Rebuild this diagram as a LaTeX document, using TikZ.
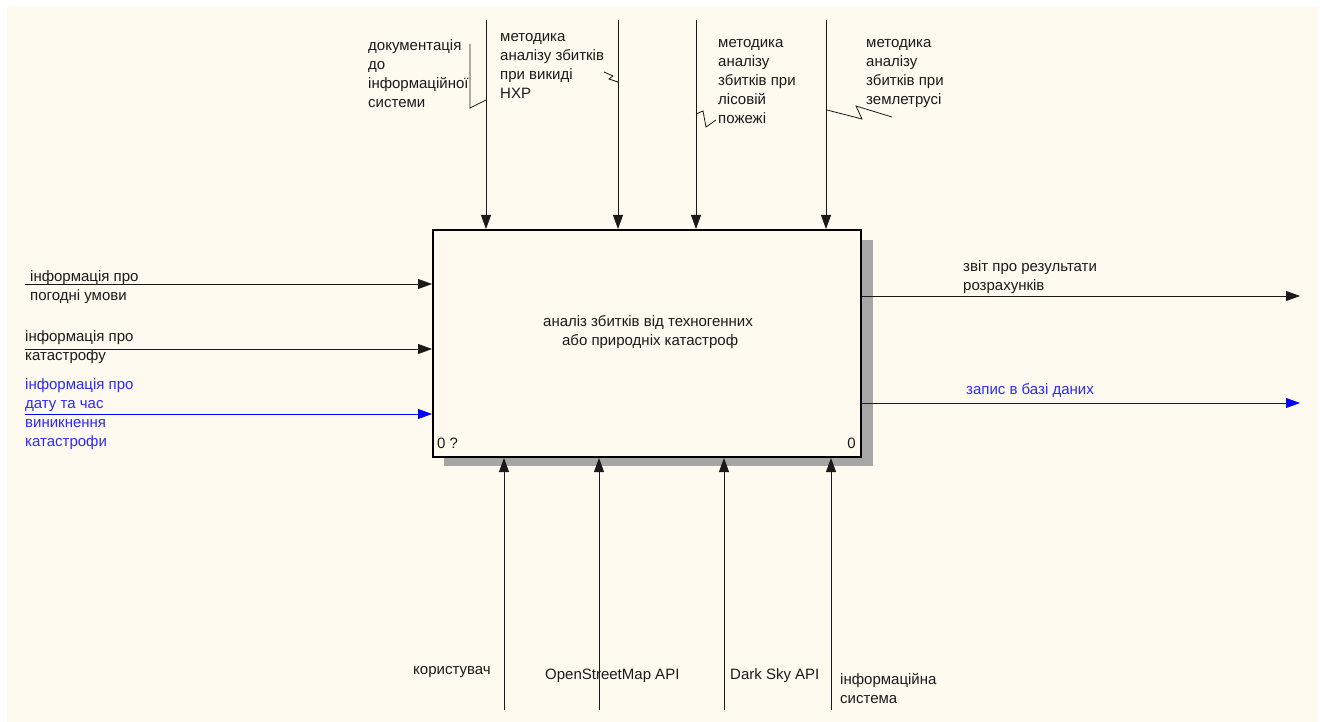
\documentclass[tikz,border=0pt]{standalone}
\usepackage{fontspec}
\setmainfont{Liberation Sans}
\usetikzlibrary{arrows.meta}
\definecolor{cream}{HTML}{FFFAF0}
\definecolor{ink}{HTML}{1A1A1A}
\definecolor{idefblue}{HTML}{0000FF}
\definecolor{lblblue}{HTML}{2A2AFF}
\tikzset{
  lbl/.style={anchor=north west,inner sep=0pt,align=left,font=\fontsize{15}{19}\selectfont,text=ink},
  blbl/.style={lbl,text=lblblue},
  arr/.style={line width=0.8pt,draw=ink,-{Triangle[length=14pt,width=10pt]}},
  barr/.style={arr,draw=idefblue,-{Triangle[length=14pt,width=10pt,fill=idefblue]}},
  squig/.style={line width=0.8pt,draw=ink},
}
\begin{document}
\begin{tikzpicture}[x=1pt,y=-1pt]
\useasboundingbox (0,0) rectangle (1323,722);
\fill[white] (0,0) rectangle (1323,722);
\fill[cream] (7,7) rectangle (1318,722);
% shadow
\fill[black!35] (444,240) rectangle (873,466);
% main box
\node[draw=black,line width=2pt,fill=cream,minimum width=428pt,minimum height=227pt,inner sep=0pt,anchor=north west] (box) at (432,229) {};
\node[font=\fontsize{15}{19}\selectfont,text=ink,align=center] (title) at (648,332) {аналіз збитків від техногенних\\ \ або природніх катастроф};
\node[anchor=south west,inner sep=0pt,font=\fontsize{15}{16}\selectfont,text=ink] (n0q) at (437,449) {0 ?};
\node[anchor=south east,inner sep=0pt,font=\fontsize{15}{16}\selectfont,text=ink] (n0) at (856,449) {0};

% controls (top)
\coordinate (c1) at (486,20);
\coordinate (c2) at (618,20);
\coordinate (c3) at (696,20);
\coordinate (c4) at (826,20);
\foreach \c in {c1,c2,c3,c4} \draw[arr] (\c) -- (\c |- box.north);
\node[lbl] (l1) at (368,39) {документація\\до\\інформаційної\\системи};
\node[lbl] (l2) at (500,33) {методика\\аналізу збитків\\при викиді\\НХР};
\node[lbl] (l3) at (718,39) {методика\\аналізу\\збитків при\\лісовій\\пожежі};
\node[lbl] (l4) at (866,39) {методика\\аналізу\\збитків при\\землетрусі};
\draw[squig] (470,44) -- (470,108) -- (486,100);
\draw[squig] (604,72) -- (613,76) -- (609,79) -- (618,82);
\draw[squig] (696,114) -- (703,111) -- (706,127) -- (716,120);
\draw[squig] (827,110) -- (862,119) -- (856,106) -- (892,117);

% inputs (left)
\coordinate (i1) at (25,284);
\coordinate (i2) at (25,349);
\coordinate (i3) at (25,414);
\draw[arr] (i1) -- (i1 -| box.west);
\draw[arr] (i2) -- (i2 -| box.west);
\draw[barr] (i3) -- (i3 -| box.west);
\node[lbl] (li1) at (30,270) {інформація про\\погодні умови};
\node[lbl] (li2) at (25,330) {інформація про\\катастрофу};
\node[blbl] (li3) at (25,378) {інформація про\\дату та час\\виникнення\\катастрофи};

% outputs (right)
\coordinate (o1) at (1300,296);
\coordinate (o2) at (1300,403);
\draw[arr] (o1 -| box.east) -- (o1);
\draw[barr] (o2 -| box.east) -- (o2);
\node[lbl] (lo1) at (963,260) {звіт про результати\\розрахунків};
\node[blbl] (lo2) at (966,383) {запис в базі даних};

% mechanisms (bottom)
\coordinate (m1) at (504,710);
\coordinate (m2) at (599,710);
\coordinate (m3) at (724,710);
\coordinate (m4) at (831,710);
\foreach \m in {m1,m2,m3,m4} \draw[arr] (\m) -- (\m |- box.south);
\node[lbl] (lm1) at (413,666) {користувач};
\node[lbl] (lm2) at (545,669) {OpenStreetMap API};
\node[lbl] (lm3) at (730,668) {Dark Sky API};
\node[lbl] (lm4) at (840,673) {інформаційна\\система};
\end{tikzpicture}
\end{document}
